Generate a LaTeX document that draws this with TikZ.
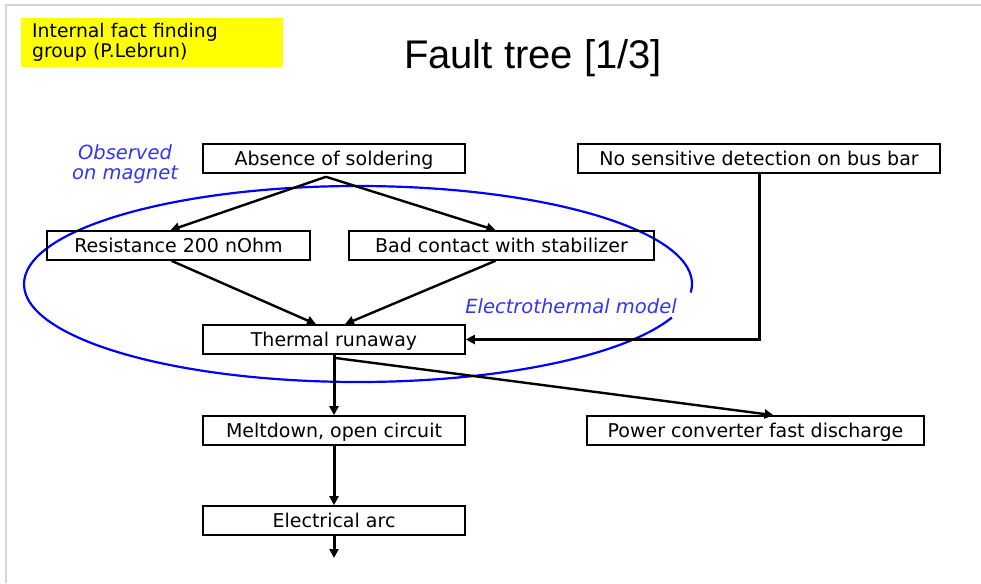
\documentclass[tikz,border=0pt]{standalone}
\usepackage{fontspec}
\setmainfont{DejaVu Sans}
\newfontfamily\titlefont{Liberation Sans}
\usepackage{tikz}
\usetikzlibrary{calc,positioning,arrows.meta}
\definecolor{ringblue}{HTML}{0000FF}
\definecolor{noteblue}{HTML}{3333FF}
\definecolor{framegray}{HTML}{D6D6D6}
\definecolor{tagyellow}{HTML}{FFFF00}
\tikzset{
	faultbox/.style={draw, line width=1.6pt, minimum height=29pt, inner sep=0pt, text height=17pt, text depth=3pt, font=\fontsize{19}{22}\selectfont},
	cause/.style={line width=2.4pt, -{Triangle[length=9pt,width=9pt]}},
	note/.style={text=noteblue, align=center, font=\itshape\fontsize{19.5}{20}\selectfont},
}

\begin{document}
\begin{tikzpicture}[x=1pt,y=-1pt]
			\useasboundingbox (0,0) rectangle (981,583);
			% slide frame
			\draw[framegray, line width=1.5pt] (6,583) -- (6,5) -- (981,5);
			% header
			\node[fill=tagyellow, anchor=north west, minimum width=262pt, minimum height=49pt, text width=240pt, inner xsep=11pt, align=left, font=\fontsize{18.8}{20}\selectfont] (tag) at (21,18) {Internal fact finding\\group (P.Lebrun)};
			\node[font=\titlefont\fontsize{40}{44}\selectfont] (title) at (533,58) {Fault tree [1/3]};
			% electrothermal ring
			\draw[ringblue, line width=2.2pt] ($(358,284)+(-5:334pt and 98pt)$) arc[start angle=-5, end angle=340, x radius=334pt, y radius=98pt];
			% boxes
			\node[faultbox, minimum width=262pt] (absence) at (334,158.5) {Absence of soldering};
			\node[faultbox, minimum width=362pt] (nosens) at (759,158.5) {No sensitive detection on bus bar};
			\node[faultbox, minimum width=263pt] (resist) at (178.5,245.5) {Resistance 200 nOhm};
			\node[faultbox, minimum width=305pt] (badcont) at (501.5,245.5) {Bad contact with stabilizer};
			\node[faultbox, minimum width=262pt] (runaway) at (334,339.5) {Thermal runaway};
			\node[faultbox, minimum width=262pt] (melt) at (334,430.5) {Meltdown, open circuit};
			\node[faultbox, minimum width=337pt] (converter) at (755.5,430.5) {Power converter fast discharge};
			\node[faultbox, minimum width=262pt] (arc) at (334,520.5) {Electrical arc};
			% notes
			\node[note] (observed) at (125,164) {Observed\\on magnet};
			\node[note] (model) at (571,306) {Electrothermal model};
			% connectors
			\coordinate (split) at ($(absence.south)+(-8,3)$);
			\coordinate (next) at (334,558);
			\draw[cause] (split) -- ([xshift=-8pt]resist.north);
			\draw[cause] (split) -- ([xshift=-6pt]badcont.north);
			\draw[cause] ([xshift=-7pt]resist.south) -- ([xshift=-18pt]runaway.north);
			\draw[cause] ([xshift=-6pt]badcont.south) -- ([xshift=11pt]runaway.north);
			\draw[cause, line width=3pt] (nosens.south) |- (runaway.east);
			\draw[cause, line width=3pt] (runaway.south) -- (melt.north);
			\draw[cause] ([yshift=-3pt]runaway.south) -- ([xshift=18pt]converter.north);
			\draw[cause, line width=3pt] (melt.south) -- (arc.north);
			\draw[cause, line width=3pt] (arc.south) -- (next);
		\end{tikzpicture}
\end{document}
